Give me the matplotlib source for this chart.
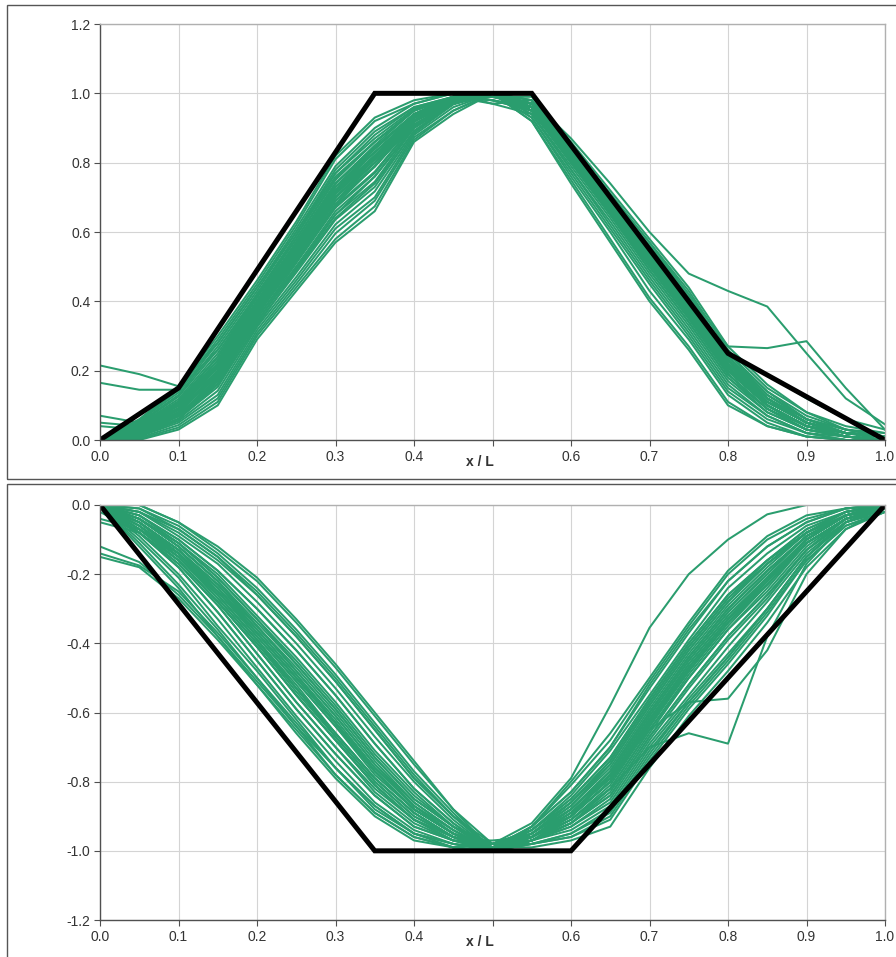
import matplotlib
matplotlib.use("Agg")
import matplotlib.pyplot as plt
from matplotlib.patches import Rectangle

plt.rcParams['font.family'] = ['Liberation Sans', 'DejaVu Sans']

# sample positions along the member (x / L)
x_pts = [0.0, 0.05, 0.1, 0.15, 0.2, 0.25, 0.3, 0.35, 0.4, 0.45, 0.5,
         0.55, 0.6, 0.65, 0.7, 0.75, 0.8, 0.85, 0.9, 0.95, 1.0]

# black design envelopes
env_top_x = [0.0, 0.1, 0.35, 0.55, 0.8, 1.0]
env_top_y = [0.0, 0.15, 1.0, 1.0, 0.25, 0.0]
env_bot_x = [0.0, 0.35, 0.6, 1.0]
env_bot_y = [0.0, -1.0, -1.0, 0.0]

x_ticks = [0.0, 0.1, 0.2, 0.3, 0.4, 0.5, 0.6, 0.7, 0.8, 0.9, 1.0]
x_ticklabels = ['0.0', '0.1', '0.2', '0.3', '0.4', '', '0.6', '0.7', '0.8', '0.9', '1.0']
top_yticks = [0.0, 0.2, 0.4, 0.6, 0.8, 1.0, 1.2]
bot_yticks = [-1.2, -1.0, -0.8, -0.6, -0.4, -0.2, 0.0]

# normalised positive profiles (top chart)
top_curves = [
    [0, .06, .15, .30, .46, .63, .82, .93, .98, 1.0, .97, .98, .84, .70, .56, .42, .25, .14, .07, .03, .01],
    [0, .057, .144, .29, .45, .62, .81, .92, .97, 1.0, .98, .96, .82, .67, .52, .38, .21, .11, .05, .02, .01],
    [0, .054, .137, .28, .44, .61, .79, .90, .97, 1.0, .99, .99, .86, .72, .58, .44, .27, .16, .08, .04, .02],
    [0, .05, .13, .27, .43, .60, .78, .89, .96, .99, .98, .95, .80, .65, .50, .35, .19, .09, .03, .01, 0],
    [0, .047, .125, .26, .42, .59, .77, .87, .955, .99, 1.0, .97, .83, .69, .54, .40, .23, .12, .06, .02, .01],
    [0, .044, .118, .25, .415, .58, .754, .86, .95, .99, .97, .94, .78, .63, .47, .32, .16, .07, .02, .01, 0],
    [0, .041, .112, .24, .41, .57, .74, .845, .94, .99, .98, .96, .81, .67, .52, .37, .20, .10, .04, .02, 0],
    [0, .038, .106, .23, .40, .56, .73, .83, .935, .985, 1.0, .98, .85, .71, .57, .43, .26, .15, .08, .03, .02],
    [0, .035, .10, .22, .39, .55, .715, .816, .93, .983, 1.0, .95, .80, .66, .51, .36, .19, .09, .04, .01, 0],
    [0, .032, .093, .21, .38, .535, .70, .80, .923, .98, .99, .97, .83, .68, .54, .39, .22, .12, .05, .02, .01],
    [0, .028, .087, .195, .37, .525, .69, .788, .917, .98, 1.0, .93, .76, .60, .43, .29, .13, .05, .01, 0, 0],
    [0, .025, .08, .185, .36, .515, .675, .774, .91, .977, 1.0, .96, .82, .68, .53, .38, .22, .11, .05, .02, .01],
    [0, .022, .074, .175, .353, .50, .66, .76, .905, .975, 1.0, .95, .80, .65, .49, .34, .18, .08, .03, .01, 0],
    [0, .019, .068, .163, .344, .493, .65, .745, .90, .973, 1.0, .97, .84, .69, .55, .41, .24, .13, .06, .03, .01],
    [0, .016, .062, .153, .335, .483, .636, .73, .892, .97, 1.0, .96, .81, .66, .51, .36, .20, .10, .04, .01, 0],
    [0, .013, .055, .142, .326, .47, .622, .717, .885, .968, 1.0, .92, .74, .57, .40, .26, .10, .04, .01, 0, 0],
    [0, .01, .05, .13, .317, .46, .61, .70, .88, .96, 1.0, .94, .79, .64, .48, .33, .17, .08, .03, .01, 0],
    [0, .006, .043, .12, .308, .45, .596, .69, .873, .95, 1.0, .94, .78, .62, .46, .31, .15, .07, .02, 0, 0],
    [0, .003, .036, .11, .30, .44, .58, .674, .866, .95, 1.0, .92, .75, .58, .41, .27, .11, .04, .01, 0, 0],
    [0, 0, .03, .10, .29, .43, .57, .66, .86, .94, 1.0, .93, .77, .61, .45, .30, .14, .06, .02, 0, 0],
    [.215, .19, .155, .28, .44, .60, .77, .88, .96, .99, 1.0, .96, .82, .67, .53, .38, .22, .12, .05, .02, .01],
    [.165, .145, .145, .26, .42, .58, .75, .86, .95, .99, 1.0, .95, .81, .66, .51, .36, .20, .10, .04, .01, 0],
    [.07, .05, .10, .22, .39, .56, .72, .84, .94, .99, 1.0, .97, .83, .68, .53, .39, .23, .12, .05, .02, .01],
    [.05, .04, .09, .21, .38, .54, .71, .82, .93, .98, 1.0, .96, .82, .67, .52, .37, .21, .11, .05, .02, .01],
    [.04, .03, .08, .20, .37, .53, .70, .81, .93, .98, 1.0, .95, .81, .66, .51, .36, .20, .10, .04, .02, .01],
    [0, .04, .11, .24, .40, .56, .73, .84, .94, .99, 1.0, .98, .87, .74, .60, .48, .43, .385, .25, .12, .045],
    [0, .03, .09, .21, .38, .54, .71, .82, .93, .98, 1.0, .97, .85, .71, .57, .42, .27, .265, .285, .15, .03],
    [0, .02, .08, .19, .37, .52, .68, .79, .92, .98, 1.0, .96, .83, .69, .54, .40, .24, .19, .12, .06, .03],
    [0, .03, .10, .23, .40, .56, .72, .83, .93, .98, 1.0, .96, .82, .68, .53, .38, .22, .11, .05, .02, .01],
    [0, .02, .09, .21, .38, .54, .70, .81, .92, .98, 1.0, .96, .82, .67, .52, .37, .21, .10, .04, .02, .01],
    [0, .02, .08, .20, .37, .53, .69, .80, .92, .98, 1.0, .95, .81, .66, .51, .36, .20, .10, .04, .01, 0],
    [0, .03, .09, .22, .39, .55, .71, .82, .93, .98, 1.0, .97, .83, .69, .54, .39, .23, .12, .05, .02, .01],
    [0, .01, .06, .16, .33, .49, .64, .74, .89, .97, 1.0, .95, .80, .65, .49, .34, .18, .09, .03, .01, 0],
    [0, .02, .07, .17, .34, .50, .65, .76, .90, .97, 1.0, .96, .82, .67, .52, .37, .21, .10, .04, .02, .01],
    [0, .03, .10, .22, .40, .57, .74, .84, .94, .99, .99, .97, .84, .70, .55, .40, .24, .13, .06, .02, .01],
    [0, .02, .08, .20, .38, .55, .72, .82, .93, .98, 1.0, .96, .83, .68, .53, .38, .22, .11, .05, .02, .01],
    [0, .02, .07, .18, .36, .52, .68, .79, .91, .97, 1.0, .97, .84, .70, .56, .41, .25, .13, .06, .02, .01],
    [0, .01, .06, .17, .35, .51, .67, .77, .91, .97, 1.0, .95, .81, .66, .50, .35, .19, .09, .03, .01, 0],
    [0, .03, .09, .21, .39, .56, .73, .83, .93, .98, .99, .96, .82, .68, .53, .38, .22, .11, .05, .02, .01],
    [0, .04, .11, .24, .42, .59, .76, .86, .95, .99, .99, .97, .84, .69, .54, .39, .23, .12, .05, .02, .01],
    [0, .02, .08, .19, .37, .54, .70, .80, .92, .98, 1.0, .97, .83, .69, .55, .40, .24, .12, .05, .02, .01],
    [0, .01, .07, .18, .36, .53, .69, .79, .92, .97, 1.0, .96, .82, .67, .52, .37, .21, .10, .04, .02, .01],
    [0, .03, .09, .22, .40, .57, .74, .85, .95, .99, .98, .95, .81, .66, .51, .36, .20, .10, .04, .01, 0],
    [0, .02, .08, .20, .38, .54, .71, .81, .93, .98, 1.0, .98, .85, .70, .55, .41, .25, .14, .06, .03, .01],
]

# normalised negative profiles (bottom chart)
bot_curves = [
    [0, -.12, -.24, -.38, -.52, -.66, -.79, -.90, -.97, -.99, -.98, -.98, -.96, -.91, -.74, -.59, -.46, -.32, -.16, -.06, -.02],
    [0, -.11, -.23, -.36, -.50, -.64, -.78, -.89, -.96, -.99, -1.0, -.98, -.95, -.89, -.72, -.57, -.44, -.30, -.15, -.05, -.01],
    [0, -.10, -.21, -.35, -.48, -.62, -.76, -.88, -.95, -.98, -.99, -.97, -.93, -.86, -.69, -.55, -.41, -.28, -.14, -.05, -.01],
    [0, -.09, -.20, -.33, -.47, -.61, -.74, -.86, -.94, -.98, -1.0, -.97, -.92, -.84, -.67, -.52, -.38, -.26, -.13, -.04, -.01],
    [0, -.08, -.18, -.31, -.45, -.59, -.72, -.84, -.93, -.97, -.97, -.96, -.90, -.80, -.63, -.48, -.34, -.23, -.11, -.04, -.01],
    [0, -.08, -.17, -.29, -.43, -.57, -.70, -.83, -.92, -.97, -1.0, -.95, -.88, -.77, -.60, -.44, -.30, -.19, -.09, -.03, -.01],
    [0, -.07, -.16, -.28, -.41, -.55, -.68, -.81, -.91, -.96, -1.0, -.94, -.85, -.73, -.56, -.40, -.26, -.16, -.08, -.02, 0],
    [0, -.06, -.15, -.26, -.39, -.53, -.66, -.79, -.89, -.96, -.99, -.93, -.83, -.70, -.53, -.37, -.22, -.12, -.05, -.01, 0],
    [0, -.05, -.14, -.24, -.37, -.50, -.63, -.77, -.88, -.95, -1.0, -.93, -.80, -.66, -.50, -.34, -.19, -.09, -.03, -.01, 0],
    [0, -.05, -.13, -.23, -.35, -.48, -.61, -.75, -.87, -.94, -1.0, -.96, -.91, -.82, -.65, -.50, -.36, -.25, -.12, -.04, -.01],
    [0, -.04, -.12, -.22, -.34, -.46, -.59, -.73, -.85, -.93, -1.0, -.96, -.89, -.79, -.62, -.46, -.32, -.21, -.10, -.03, -.01],
    [0, -.04, -.11, -.20, -.32, -.44, -.57, -.71, -.83, -.93, -.98, -.95, -.86, -.75, -.58, -.42, -.28, -.17, -.08, -.03, 0],
    [0, -.03, -.10, -.19, -.30, -.42, -.55, -.69, -.82, -.92, -1.0, -.97, -.93, -.85, -.68, -.53, -.39, -.27, -.13, -.05, -.01],
    [0, -.02, -.09, -.17, -.28, -.40, -.53, -.67, -.80, -.91, -1.0, -.94, -.84, -.71, -.55, -.39, -.24, -.14, -.06, -.02, 0],
    [0, -.02, -.08, -.16, -.26, -.38, -.51, -.65, -.79, -.90, -.99, -.93, -.81, -.68, -.51, -.35, -.20, -.10, -.04, -.01, 0],
    [0, -.01, -.07, -.15, -.25, -.37, -.50, -.64, -.78, -.90, -1.0, -.96, -.90, -.80, -.63, -.47, -.33, -.22, -.11, -.04, -.01],
    [0, -.01, -.06, -.14, -.24, -.36, -.49, -.63, -.77, -.89, -1.0, -.95, -.88, -.77, -.60, -.44, -.30, -.19, -.09, -.03, 0],
    [0, 0, -.05, -.13, -.22, -.34, -.47, -.61, -.75, -.88, -.98, -.94, -.85, -.73, -.56, -.40, -.26, -.16, -.07, -.02, 0],
    [0, 0, -.05, -.12, -.21, -.33, -.46, -.60, -.74, -.88, -1.0, -.93, -.83, -.70, -.52, -.36, -.22, -.12, -.05, -.01, 0],
    [-.02, -.08, -.18, -.31, -.45, -.59, -.72, -.84, -.93, -.97, -1.0, -.97, -.94, -.87, -.70, -.56, -.43, -.30, -.15, -.05, -.01],
    [-.04, -.07, -.14, -.25, -.37, -.50, -.63, -.77, -.88, -.95, -1.0, -.98, -.96, -.90, -.73, -.58, -.45, -.31, -.16, -.06, -.02],
    [-.05, -.08, -.16, -.28, -.41, -.55, -.68, -.81, -.91, -.96, -.99, -.99, -.97, -.93, -.76, -.61, -.48, -.34, -.18, -.07, -.02],
    [-.12, -.165, -.26, -.38, -.51, -.64, -.76, -.87, -.95, -.98, -1.0, -.97, -.92, -.84, -.67, -.52, -.38, -.26, -.13, -.04, -.01],
    [-.14, -.175, -.25, -.37, -.50, -.63, -.76, -.87, -.95, -.99, -.98, -.96, -.90, -.80, -.63, -.48, -.34, -.23, -.11, -.04, -.01],
    [-.15, -.18, -.27, -.39, -.52, -.65, -.78, -.89, -.96, -.99, -1.0, -.98, -.95, -.88, -.71, -.57, -.44, -.30, -.15, -.05, -.02],
    [0, -.02, -.07, -.15, -.26, -.38, -.51, -.65, -.79, -.90, -.98, -.92, -.79, -.58, -.355, -.20, -.10, -.027, 0, 0, 0],
    [0, -.03, -.10, -.19, -.30, -.42, -.55, -.69, -.82, -.92, -1.0, -.97, -.92, -.82, -.70, -.66, -.69, -.38, -.17, -.05, 0],
    [0, -.04, -.11, -.21, -.33, -.45, -.58, -.72, -.84, -.93, -1.0, -.96, -.90, -.78, -.65, -.57, -.56, -.42, -.20, -.07, -.01],
    [0, -.05, -.13, -.23, -.36, -.49, -.62, -.76, -.87, -.95, -1.0, -.95, -.87, -.76, -.59, -.43, -.29, -.18, -.08, -.03, 0],
    [0, -.06, -.14, -.25, -.38, -.51, -.64, -.77, -.88, -.95, -.99, -.96, -.88, -.78, -.61, -.45, -.31, -.20, -.09, -.03, 0],
    [0, -.04, -.12, -.22, -.35, -.47, -.60, -.74, -.86, -.94, -1.0, -.95, -.86, -.74, -.57, -.41, -.27, -.17, -.08, -.02, 0],
    [0, -.07, -.15, -.27, -.40, -.54, -.67, -.80, -.90, -.96, -1.0, -.96, -.89, -.79, -.62, -.47, -.33, -.22, -.10, -.03, -.01],
    [0, -.06, -.15, -.26, -.39, -.52, -.66, -.79, -.89, -.96, -.99, -.96, -.89, -.78, -.61, -.45, -.31, -.20, -.09, -.03, 0],
    [0, -.05, -.13, -.24, -.37, -.50, -.63, -.77, -.88, -.95, -1.0, -.97, -.91, -.81, -.64, -.48, -.34, -.22, -.10, -.03, -.01],
    [0, -.07, -.16, -.28, -.41, -.55, -.68, -.81, -.91, -.97, -.99, -.96, -.88, -.77, -.60, -.44, -.30, -.19, -.09, -.03, 0],
    [0, -.04, -.12, -.22, -.35, -.48, -.61, -.75, -.86, -.94, -1.0, -.97, -.90, -.80, -.63, -.47, -.33, -.21, -.10, -.03, -.01],
    [0, -.08, -.17, -.29, -.43, -.57, -.70, -.82, -.91, -.97, -.98, -.95, -.87, -.75, -.58, -.42, -.28, -.17, -.08, -.02, 0],
    [0, -.05, -.14, -.25, -.38, -.51, -.64, -.78, -.88, -.95, -.99, -.97, -.92, -.83, -.66, -.50, -.36, -.24, -.11, -.04, -.01],
    [0, -.06, -.14, -.26, -.39, -.53, -.66, -.79, -.89, -.96, -1.0, -.96, -.89, -.79, -.62, -.46, -.32, -.21, -.10, -.03, 0],
    [0, -.03, -.11, -.21, -.33, -.46, -.59, -.73, -.85, -.93, -1.0, -.96, -.90, -.80, -.64, -.48, -.34, -.22, -.10, -.03, -.01],
    [0, -.07, -.15, -.27, -.40, -.53, -.67, -.80, -.90, -.96, -.98, -.94, -.86, -.74, -.57, -.41, -.27, -.16, -.07, -.02, 0],
    [0, -.05, -.13, -.24, -.36, -.49, -.63, -.76, -.87, -.95, -1.0, -.97, -.91, -.82, -.65, -.49, -.35, -.23, -.11, -.04, -.01],
]

green = '#2a9d6e'
W, H = 896, 957
fig = plt.figure(figsize=(W / 100, H / 100), dpi=100)

# outer chart boxes (Excel style)
fig.add_artist(Rectangle((7 / W, 1 - 479 / H), 0.995, 474 / H, transform=fig.transFigure,
                         fill=False, edgecolor='#555555', lw=1.0))
fig.add_artist(Rectangle((7 / W, -0.01), 0.995, 1 - 484 / H + 0.01, transform=fig.transFigure,
                         fill=False, edgecolor='#555555', lw=1.0))

ax1 = fig.add_axes([100 / W, 1 - 440 / H, 785 / W, 416 / H])
ax2 = fig.add_axes([100 / W, 1 - 920 / H, 785 / W, 415 / H])


def style(ax, yticks):
    ax.set_xlim(0, 1)
    ax.set_ylim(yticks[0], yticks[-1])
    ax.set_xticks(x_ticks)
    ax.set_xticklabels(x_ticklabels)
    ax.set_yticks(yticks)
    ax.set_yticklabels(['%.1f' % v for v in yticks])
    ax.grid(True, color='#d4d4d4', lw=0.8)
    ax.set_axisbelow(True)
    for s in ['top', 'right']:
        ax.spines[s].set_color('#b0b0b0')
        ax.spines[s].set_linewidth(1.0)
    for s in ['left', 'bottom']:
        ax.spines[s].set_color('#505050')
        ax.spines[s].set_linewidth(1.0)
    ax.tick_params(direction='out', length=4, width=0.8, color='#505050',
                   labelsize=10, labelcolor='#333333', pad=3)


style(ax1, top_yticks)
for c in top_curves:
    ax1.plot(x_pts, c, color=green, lw=1.45)
ax1.plot(env_top_x, env_top_y, color='black', lw=3.6, solid_joinstyle='miter')
ax1.text(0.484, -0.052, 'x / L', transform=ax1.transAxes, ha='center', va='center',
         fontsize=10, fontweight='bold', color='#333333')

style(ax2, bot_yticks)
for c in bot_curves:
    ax2.plot(x_pts, c, color=green, lw=1.45)
ax2.plot(env_bot_x, env_bot_y, color='black', lw=3.6, solid_joinstyle='miter')
ax2.text(0.484, -0.052, 'x / L', transform=ax2.transAxes, ha='center', va='center',
         fontsize=10, fontweight='bold', color='#333333')

fig.savefig('out.png', dpi=100)
